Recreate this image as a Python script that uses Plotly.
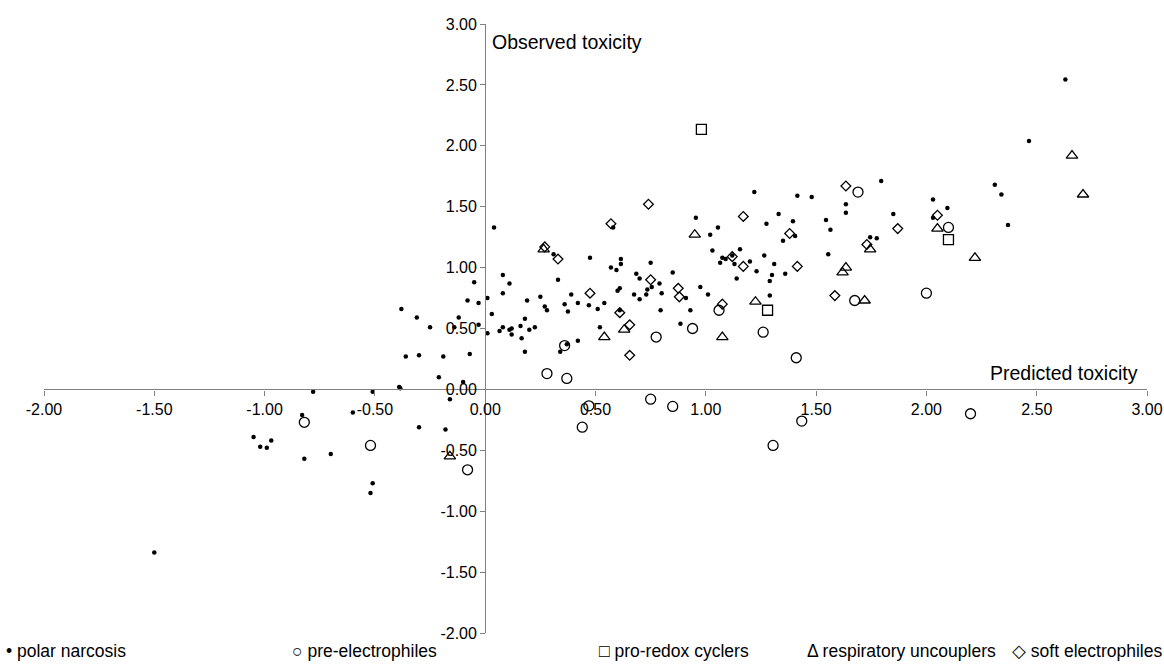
import plotly.graph_objects as go

# polar narcosis (predicted, observed)
pn_x = [-1.50, -0.78, -0.51, -0.39, -0.385, -0.10, -0.16, -0.83, -0.60, -1.05,
        -1.02, -0.99, -0.97, -0.82, -0.70, -0.51, -0.52, -0.30, -0.18, -0.38,
        -0.31, -0.25, -0.36, -0.30, -0.19, -0.21, -0.05, -0.08, -0.03, 0.01,
        0.03, -0.12, -0.14, -0.03, 0.01, 0.065, -0.07, 0.04, 0.08, 0.11,
        0.08, 0.08, 0.11, 0.12, 0.12, 0.16, 0.18, 0.165, 0.18, 0.19,
        0.20, 0.225, 0.25, 0.27, 0.28, 0.31, 0.33, 0.34, 0.36, 0.375,
        0.37, 0.39, 0.42, 0.42, 0.47, 0.475, 0.51, 0.52, 0.54, 0.58,
        0.57, 0.595, 0.615, 0.615, 0.60, 0.61, 0.61, 0.675, 0.685, 0.70,
        0.70, 0.73, 0.735, 0.75, 0.755, 0.79, 0.80, 0.795, 0.85, 0.885,
        0.91, 0.93, 0.955, 0.975, 1.01, 1.02, 1.055, 1.03, 1.065, 1.075,
        1.09, 1.12, 1.13, 1.155, 1.20, 1.14, 1.22, 1.23, 1.265, 1.275,
        1.29, 1.30, 1.31, 1.29, 1.33, 1.35, 1.36, 1.395, 1.405, 1.415,
        1.48, 1.545, 1.565, 1.555, 1.635, 1.635, 1.745, 1.775, 1.795, 1.85,
        2.03, 2.03, 2.095, 2.63, 2.465, 2.31, 2.34, 2.37]
pn_y = [-1.34, -0.02, -0.02, 0.02, 0.01, 0.06, -0.08, -0.21, -0.19, -0.39,
        -0.47, -0.48, -0.42, -0.57, -0.53, -0.77, -0.85, -0.31, -0.33, 0.66,
        0.59, 0.51, 0.27, 0.28, 0.27, 0.10, 0.88, 0.73, 0.71, 0.75,
        0.62, 0.59, 0.51, 0.53, 0.46, 0.48, 0.29, 1.33, 0.94, 0.87,
        0.79, 0.51, 0.49, 0.50, 0.45, 0.52, 0.58, 0.42, 0.31, 0.73,
        0.49, 0.51, 0.76, 0.68, 0.65, 1.11, 0.90, 0.31, 0.70, 0.64,
        0.37, 0.78, 0.40, 0.71, 0.69, 1.08, 0.66, 0.51, 0.71, 1.33,
        1.00, 0.98, 1.07, 1.03, 0.81, 0.83, 0.65, 0.78, 0.95, 0.91,
        0.74, 0.78, 0.82, 1.04, 0.84, 0.87, 0.79, 0.65, 0.96, 0.54,
        0.75, 0.65, 1.41, 0.84, 0.78, 1.27, 1.33, 1.14, 1.04, 1.08,
        1.07, 1.10, 1.03, 1.15, 1.05, 0.91, 1.62, 0.97, 1.10, 1.36,
        0.89, 0.94, 1.03, 0.77, 1.44, 1.22, 0.95, 1.38, 1.26, 1.59,
        1.58, 1.39, 1.31, 1.11, 1.52, 1.45, 1.25, 1.24, 1.71, 1.44,
        1.56, 1.41, 1.49, 2.545, 2.04, 1.68, 1.60, 1.35]

# pre-electrophiles
pe_x = [-0.82, -0.52, -0.08, 0.36, 0.28, 0.37, 0.775, 0.94, 1.06, 1.26, 1.41,
        1.69, 1.675, 2.00, 2.10, 0.75, 0.47, 0.85, 0.44, 1.305, 1.435, 2.20]
pe_y = [-0.27, -0.46, -0.66, 0.36, 0.13, 0.09, 0.43, 0.50, 0.65, 0.47, 0.26,
        1.62, 0.73, 0.79, 1.33, -0.08, -0.135, -0.14, -0.31, -0.46, -0.26, -0.20]

# pro-redox cyclers
pr_x = [0.98, 1.28, 2.10]
pr_y = [2.135, 0.65, 1.23]

# respiratory uncouplers
ru_x = [-0.16, 0.265, 0.54, 0.63, 0.95, 1.075, 1.225, 1.62, 1.635, 1.72,
        1.745, 2.05, 2.22, 2.66, 2.71]
ru_y = [-0.55, 1.15, 0.43, 0.49, 1.27, 0.43, 0.72, 0.96, 1.00, 0.73,
        1.15, 1.32, 1.08, 1.92, 1.60]

# soft electrophiles
se_x = [0.27, 0.33, 0.475, 0.57, 0.74, 0.61, 0.655, 0.655, 0.75, 0.875, 0.88,
        1.075, 1.12, 1.17, 1.17, 1.38, 1.415, 1.585, 1.635, 1.73, 1.87, 2.05]
se_y = [1.17, 1.07, 0.79, 1.36, 1.52, 0.63, 0.53, 0.28, 0.90, 0.83, 0.76,
        0.70, 1.09, 1.01, 1.42, 1.28, 1.01, 0.77, 1.67, 1.19, 1.32, 1.43]

tick_vals = [-2.0, -1.5, -1.0, -0.5, 0.0, 0.5, 1.0, 1.5, 2.0, 2.5, 3.0]
tick_text = ["%.2f" % v for v in tick_vals]

legend_labels = ["\u2022 polar narcosis", "\u25cb pre-electrophiles",
                 "\u25a1 pro-redox cyclers", "\u0394 respiratory uncouplers",
                 "\u25c7 soft electrophiles"]
legend_pos = [-0.036, 0.223, 0.501, 0.690, 0.876]

FONT = "Liberation Sans, Arial, sans-serif"

fig = go.Figure()
open_line = dict(color="black", width=1.3)
fig.add_trace(go.Scatter(x=pe_x, y=pe_y, mode="markers", name="pre-electrophiles",
                         marker=dict(symbol="circle-open", size=10, color="black", line=open_line)))
fig.add_trace(go.Scatter(x=pr_x, y=pr_y, mode="markers", name="pro-redox cyclers",
                         marker=dict(symbol="square-open", size=10, color="black", line=open_line)))
fig.add_trace(go.Scatter(x=ru_x, y=ru_y, mode="markers", name="respiratory uncouplers",
                         marker=dict(symbol="triangle-up-open", size=10, color="black", line=open_line)))
fig.add_trace(go.Scatter(x=se_x, y=se_y, mode="markers", name="soft electrophiles",
                         marker=dict(symbol="diamond-open", size=7.5, color="black", line=open_line)))
fig.add_trace(go.Scatter(x=pn_x, y=pn_y, mode="markers", name="polar narcosis",
                         marker=dict(symbol="circle", size=4.5, color="black", line=dict(width=0))))

axis_common = dict(
    range=[-2, 3], tickvals=tick_vals, ticktext=tick_text, showgrid=False,
    zeroline=False, showline=True, linecolor="#808080", linewidth=1.2,
    ticks="outside", ticklen=5, tickcolor="#808080", tickwidth=1.2,
    tickfont=dict(family=FONT, size=16, color="black"),
    anchor="free", position=0.4, fixedrange=True, automargin=False,
)
fig.update_layout(
    width=1164, height=667,
    margin=dict(l=44, r=17, t=23.5, b=33.5, autoexpand=False),
    paper_bgcolor="white", plot_bgcolor="white",
    showlegend=False,
    xaxis=axis_common,
    yaxis=axis_common,
    font=dict(family=FONT, color="black"),
)

fig.add_annotation(x=0.02, y=2.85, xref="x", yref="y", text="Observed toxicity",
                   showarrow=False, xanchor="left", yanchor="middle",
                   font=dict(family=FONT, size=19.5, color="black"))
fig.add_annotation(x=2.97, y=0.135, xref="x", yref="y", text="Predicted toxicity",
                   showarrow=False, xanchor="right", yanchor="middle",
                   font=dict(family=FONT, size=19.5, color="black"))

for lbl, px in zip(legend_labels, legend_pos):
    fig.add_annotation(x=px, y=-0.03, xref="paper", yref="paper", text=lbl,
                       showarrow=False, xanchor="left", yanchor="middle",
                       font=dict(family=FONT, size=17.5, color="black"))

fig.write_html("out.html", config={"displayModeBar": False},
               post_script="document.body.style.margin='0';")
